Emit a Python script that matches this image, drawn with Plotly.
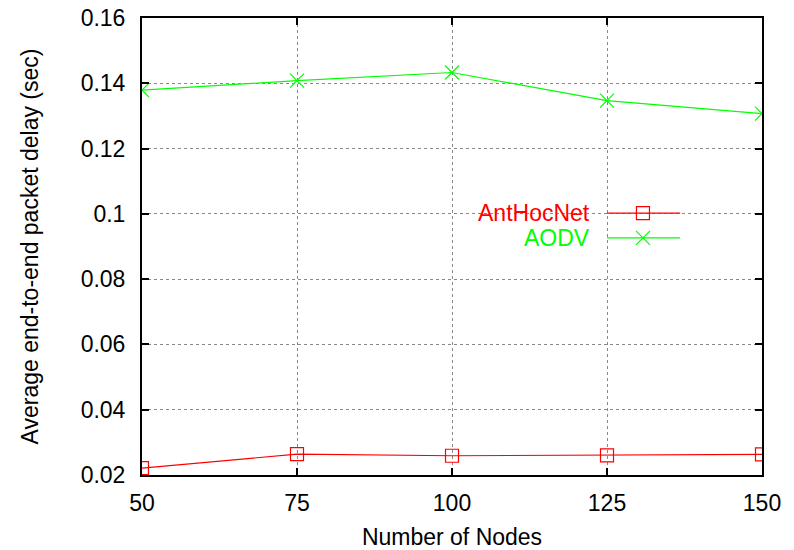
import plotly.graph_objects as go

nodes = [50, 75, 100, 125, 150]
anthocnet = [0.0221, 0.0264, 0.0259, 0.0260, 0.0263]
aodv = [0.1379, 0.1408, 0.1433, 0.1347, 0.1307]
y_ticks = [0.02, 0.04, 0.06, 0.08, 0.1, 0.12, 0.14, 0.16]
y_tick_labels = ["0.02", "0.04", "0.06", "0.08", "0.1", "0.12", "0.14", "0.16"]
x_ticks = [50, 75, 100, 125, 150]
series_names = ["AntHocNet", "AODV"]

RED = "#ff0000"
GREEN = "#00ff00"
FONT = "Liberation Sans, Arial, sans-serif"
FS = 23

fig = go.Figure()
fig.add_trace(go.Scatter(x=nodes, y=anthocnet, mode="lines+markers", name=series_names[0],
                         line=dict(color=RED, width=1.2),
                         marker=dict(symbol="square-open", size=13, color=RED, line=dict(width=1.2, color=RED))))
fig.add_trace(go.Scatter(x=nodes, y=aodv, mode="lines+markers", name=series_names[1],
                         line=dict(color=GREEN, width=1.2),
                         marker=dict(symbol="x-thin-open", size=14, color=GREEN, line=dict(width=1.2, color=GREEN))))

# manual legend (text left of sample) on an overlay axis spanning the plot area
leg_x0, leg_xm, leg_x1 = 0.75, 0.808, 0.868
leg_y = [0.573, 0.519]
colors = [RED, GREEN]
symbols = ["square-open", "x-thin-open"]
for name, c, sym, yy in zip(series_names, colors, symbols, leg_y):
    fig.add_trace(go.Scatter(x=[leg_x0, leg_x1], y=[yy, yy], mode="lines", xaxis="x2", yaxis="y2",
                             line=dict(color=c, width=1.2), showlegend=False, hoverinfo="skip"))
    fig.add_trace(go.Scatter(x=[leg_xm], y=[yy], mode="markers", xaxis="x2", yaxis="y2",
                             marker=dict(symbol=sym, size=14 if sym.startswith("x") else 13, color=c,
                                         line=dict(width=1.2, color=c)),
                             showlegend=False, hoverinfo="skip"))
    fig.add_annotation(x=0.726, y=yy, xref="x2", yref="y2", text=name, showarrow=False,
                       xanchor="right", yanchor="middle", font=dict(color=c, size=FS, family=FONT))

axis_common = dict(showline=True, linecolor="black", linewidth=2, mirror="allticks",
                   ticks="inside", ticklen=7, tickwidth=1.5, tickcolor="black",
                   showgrid=True, gridcolor="#888888", gridwidth=1, griddash="dot",
                   zeroline=False, automargin=False,
                   tickfont=dict(size=FS, family=FONT, color="black"))

fig.update_layout(
    width=794, height=550,
    margin=dict(l=142, r=32, t=18, b=75, autoexpand=False),
    plot_bgcolor="white", paper_bgcolor="white",
    showlegend=False,
    font=dict(family=FONT, size=FS, color="black"),
    xaxis=dict(range=[50, 150], tickvals=x_ticks, ticklabelstandoff=6,
               title=dict(text="Number of Nodes", standoff=14, font=dict(size=FS, family=FONT)),
               **axis_common),
    yaxis=dict(range=[0.02, 0.16], tickvals=y_ticks, ticktext=y_tick_labels, ticklabelstandoff=10,
               title=dict(text="Average end-to-end packet delay (sec)", standoff=36, font=dict(size=FS, family=FONT)),
               **axis_common),
    xaxis2=dict(range=[0, 1], overlaying="x", visible=False, fixedrange=True),
    yaxis2=dict(range=[0, 1], overlaying="y", visible=False, fixedrange=True),
)

fig.write_html("out.html")
